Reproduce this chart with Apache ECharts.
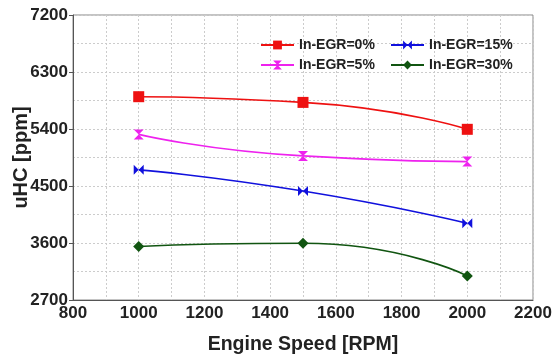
<!DOCTYPE html>
<html><head><meta charset="utf-8">
<script src="https://cdn.jsdelivr.net/npm/echarts@6/dist/echarts.min.js"></script>
<style>html,body{margin:0;padding:0;background:#fff}#c{width:552px;height:356px}</style>
</head><body><div id="c"></div>
<script>
var speeds = [1000, 1500, 2000];
var egr0 = [5910, 5820, 5395];
var egr5 = [5315, 4975, 4885];
var egr15 = [4755, 4420, 3910];
var egr30 = [3545, 3595, 3080];
var seriesNames = ['In-EGR=0%', 'In-EGR=5%', 'In-EGR=15%', 'In-EGR=30%'];

var hourglass = 'path://M0,0 L10,0 L5,5 L10,10 L0,10 L5,5 Z';
var bowtie = 'path://M0,0 L5,5 L0,10 Z M10,0 L5,5 L10,10 Z';

function pts(v){ return speeds.map(function(s,i){ return [s, v[i]]; }); }
function mk(name, data, color, symbol, size){
  return {name:name, type:'line', data:pts(data), smooth:0.6,
    symbol:symbol, symbolSize:size, showAllSymbol:true,
    lineStyle:{color:color, width:1.6}, itemStyle:{color:color}};
}
var font = 'Liberation Sans, Arial, sans-serif';
var plain = function(v){ return String(v); };
var grid = {lineStyle:{color:'#ccc', type:[2,2]}};
var chart = echarts.init(document.getElementById('c'));
chart.setOption({
  animation:false,
  grid:{left:73, right:19, top:15, bottom:56, show:true, borderColor:'#888', borderWidth:1,
        containLabel:false, outerBoundsMode:'none'},
  legend:[
    {data:['In-EGR=0%','In-EGR=5%'], orient:'vertical', left:255, top:33, itemGap:6, itemWidth:33, itemHeight:11,
     textStyle:{fontFamily:font, fontWeight:'bold', fontSize:14, color:'#222'}},
    {data:['In-EGR=15%','In-EGR=30%'], orient:'vertical', left:385, top:33, itemGap:6, itemWidth:33, itemHeight:11,
     textStyle:{fontFamily:font, fontWeight:'bold', fontSize:14, color:'#222'}}
  ],
  xAxis:{type:'value', min:800, max:2200, interval:200,
    name:'Engine Speed [RPM]', nameLocation:'middle', nameGap:35, nameMoveOverlap:false,
    nameTextStyle:{fontFamily:font, fontWeight:'bold', fontSize:19.5, color:'#222'},
    axisLine:{lineStyle:{color:'#555'}}, axisTick:{show:false},
    axisLabel:{fontFamily:font, fontWeight:'bold', fontSize:17, color:'#222', margin:5, formatter:plain},
    splitLine:{show:true, lineStyle:grid.lineStyle},
    minorTick:{show:false, splitNumber:2},
    minorSplitLine:{show:true, lineStyle:grid.lineStyle}
  },
  yAxis:{type:'value', min:2700, max:7200, interval:900,
    name:'uHC [ppm]', nameLocation:'middle', nameGap:42, nameMoveOverlap:false,
    nameTextStyle:{fontFamily:font, fontWeight:'bold', fontSize:20, color:'#222'},
    axisLine:{show:true, lineStyle:{color:'#555'}}, axisTick:{show:true, inside:false, length:4, lineStyle:{color:'#555'}},
    axisLabel:{fontFamily:font, fontWeight:'bold', fontSize:17, color:'#222', margin:5, formatter:plain},
    splitLine:{show:true, lineStyle:grid.lineStyle},
    minorTick:{show:false, splitNumber:2},
    minorSplitLine:{show:true, lineStyle:grid.lineStyle}
  },
  series:[
    mk(seriesNames[0], egr0, '#ee1111', 'rect', 11),
    mk(seriesNames[1], egr5, '#ee22ee', hourglass, 10),
    mk(seriesNames[2], egr15, '#1111dd', bowtie, 10),
    mk(seriesNames[3], egr30, '#115511', 'diamond', 11)
  ]
});
</script></body></html>
